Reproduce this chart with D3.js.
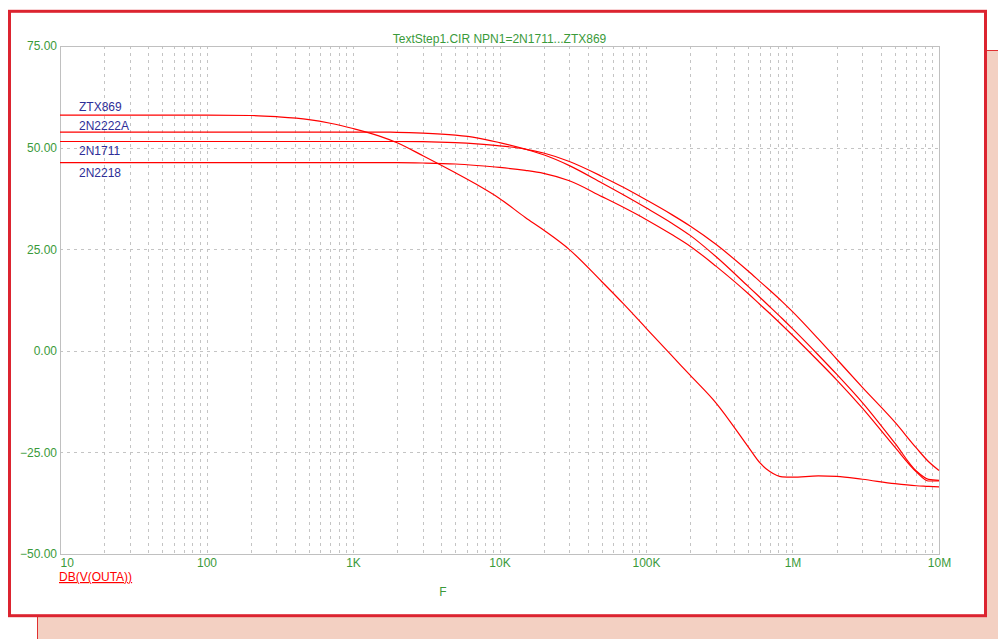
<!DOCTYPE html>
<html>
<head>
<meta charset="utf-8">
<script src="https://cdn.jsdelivr.net/npm/d3@7"></script>
<style>
  body { margin: 0; background: #fff; }
  svg { display: block; font-family: Arial, "Liberation Sans", sans-serif; }
</style>
</head>
<body>
<script>
// Data
const freqs = [10, 100, 200, 300, 500, 700, 1e3, 1.5e3, 2e3, 3e3, 5e3, 7e3,
    1e4, 1.5e4, 2e4, 3e4, 5e4, 7e4, 1e5, 1.5e5, 2e5, 3e5, 5e5, 6e5, 7e5, 8.5e5,
    1e6, 1.5e6, 2e6, 3e6, 5e6, 7e6, 8.5e6, 1e7];

const ztx869 = [58.0, 58.0, 57.9, 57.6, 56.9, 56.0, 54.7, 52.9, 51.2, 48.0, 43.8, 40.9,
    37.5, 32.8, 29.7, 24.9, 17.0, 11.6, 5.6, -1.2, -6.0, -12.8, -23.7, -27.6, -29.7, -31.0,
    -31.1, -30.8, -30.9, -31.6, -32.7, -33.2, -33.35, -33.5];
const n2n2222a = [53.8, 53.8, 53.8, 53.8, 53.8, 53.8, 53.8, 53.8, 53.77, 53.57, 53.05, 52.41,
    51.23, 49.61, 48.23, 45.57, 41.29, 38.39, 35.19, 31.4, 28.4, 23.2, 15.8, 13.12, 10.85, 7.95,
    5.44, -1.03, -5.76, -12.75, -22.74, -29.58, -31.62, -31.87];
const n2n1711 = [51.5, 51.5, 51.5, 51.5, 51.5, 51.5, 51.5, 51.5, 51.5, 51.45, 51.2, 50.9,
    50.44, 49.63, 48.67, 46.58, 42.91, 40.23, 37.16, 33.51, 30.7, 26.2, 19.56, 17.03, 14.89, 12.11,
    9.65, 2.93, -2.02, -9.01, -17.57, -23.9, -27.3, -29.45];
const n2n2218 = [46.3, 46.3, 46.3, 46.3, 46.3, 46.3, 46.3, 46.3, 46.3, 46.21, 45.96, 45.6,
    45.13, 44.39, 43.65, 41.83, 37.94, 35.31, 32.33, 28.6, 25.75, 20.84, 14.03, 11.39, 9.18, 6.3,
    3.84, -2.51, -7.14, -14.12, -23.72, -29.77, -32.04, -31.99];

const seriesNames = ['ZTX869', '2N2222A', '2N1711', '2N2218'];
const seriesValues = [ztx869, n2n2222a, n2n1711, n2n2218];

const xTickVals = [10, 100, 1e3, 1e4, 1e5, 1e6, 1e7];
const xTickLabels = ['10', '100', '1K', '10K', '100K', '1M', '10M'];
const yTickVals = [-50, -25, 0, 25, 50, 75];

const title = 'TextStep1.CIR NPN1=2N1711...ZTX869';
const yExpr = 'DB(V(OUTA))';
const xName = 'F';

// Layout
const W = 998, H = 639;
const plot = { left: 60, top: 46, right: 939, bottom: 554 };
const green = '#3a9a3a', blue = '#2e2e98', red = '#ff0000';

let svg = d3.select('body').append('svg').attr('width', W).attr('height', H);

// pink back panel
svg.append('rect')
    .attr('x', 37.5).attr('y', 50.5)
    .attr('width', W).attr('height', H)
    .attr('fill', '#f3d0c2')
    .attr('stroke', '#e03030').attr('stroke-width', 1);

// white window with red frame
svg.append('rect')
    .attr('x', 9.5).attr('y', 11.3)
    .attr('width', 976).attr('height', 604.4)
    .attr('fill', '#fff')
    .attr('stroke', '#dc2430').attr('stroke-width', 3);

let x = d3.scaleLog().domain([10, 1e7]).range([plot.left, plot.right]);
let y = d3.scaleLinear().domain([-50, 75]).range([plot.bottom, plot.top]);

// grid
let minorX = [];
for (let e = 1; e < 7; e++) {
    for (let m = 1; m < 10; m++) {
        let v = m * Math.pow(10, e);
        if (v > 10 && v < 1e7) minorX.push(v);
    }
}

let grid = svg.append('g')
    .attr('stroke', '#c4c4c4')
    .attr('stroke-dasharray', '3,4')
    .attr('shape-rendering', 'crispEdges');

grid.selectAll('line.vx').data(minorX).enter().append('line')
    .attr('class', 'vx')
    .attr('x1', d => Math.round(x(d)) + 0.5).attr('x2', d => Math.round(x(d)) + 0.5)
    .attr('y1', plot.top).attr('y2', plot.bottom);

grid.selectAll('line.hy').data(yTickVals.filter(v => v > -50 && v < 75)).enter().append('line')
    .attr('class', 'hy')
    .attr('x1', plot.left).attr('x2', plot.right)
    .attr('y1', d => Math.round(y(d)) + 0.5).attr('y2', d => Math.round(y(d)) + 0.5);

// plot border
svg.append('rect')
    .attr('x', plot.left + 0.5).attr('y', plot.top + 0.5)
    .attr('width', plot.right - plot.left).attr('height', plot.bottom - plot.top)
    .attr('fill', 'none')
    .attr('stroke', '#c0c0c0')
    .attr('shape-rendering', 'crispEdges');

// y axis
let yAxis = svg.append('g')
    .attr('transform', `translate(${plot.left}, 0)`)
    .call(d3.axisLeft(y).tickValues(yTickVals).tickFormat(d3.format('.2f')).tickSize(0).tickPadding(3));
yAxis.select('.domain').remove();
yAxis.selectAll('text').attr('fill', green).style('font-size', '12px')
    .style('font-family', 'Arial, "Liberation Sans", sans-serif');

// x axis
let xAxis = svg.append('g')
    .attr('transform', `translate(0, ${plot.bottom})`)
    .call(d3.axisBottom(x).tickValues(xTickVals).tickFormat((d, i) => xTickLabels[i]).tickSize(0).tickPadding(4));
xAxis.select('.domain').remove();
xAxis.selectAll('text').attr('fill', green).style('font-size', '12px')
    .style('font-family', 'Arial, "Liberation Sans", sans-serif')
    .attr('text-anchor', (d, i) => i === 0 ? 'start' : 'middle');

// curves
let line = d3.line()
    .x((d, i) => x(freqs[i]))
    .y(d => y(d))
    .curve(d3.curveMonotoneX);

svg.append('g').selectAll('path').data(seriesValues).enter().append('path')
    .attr('d', line)
    .attr('fill', 'none')
    .attr('stroke', red)
    .attr('stroke-width', 1.2);

// series labels
const labelDy = [-4.5, -2.5, 13.5, 14];
svg.append('g').selectAll('text').data(seriesNames).enter().append('text')
    .attr('x', 79)
    .attr('y', (d, i) => y(seriesValues[i][0]) + labelDy[i])
    .attr('fill', blue)
    .style('font-size', '12px')
    .text(d => d);

// title
svg.append('text')
    .attr('x', (plot.left + plot.right) / 2)
    .attr('y', 43)
    .attr('text-anchor', 'middle')
    .attr('fill', green)
    .style('font-size', '12px')
    .text(title);

// y expression (underlined)
svg.append('text')
    .attr('x', 59)
    .attr('y', 581)
    .attr('fill', red)
    .style('font-size', '12px')
    .style('text-decoration', 'underline')
    .text(yExpr);

// x name
svg.append('text')
    .attr('x', 443)
    .attr('y', 596)
    .attr('text-anchor', 'middle')
    .attr('fill', green)
    .style('font-size', '12px')
    .text(xName);
</script>
</body>
</html>
